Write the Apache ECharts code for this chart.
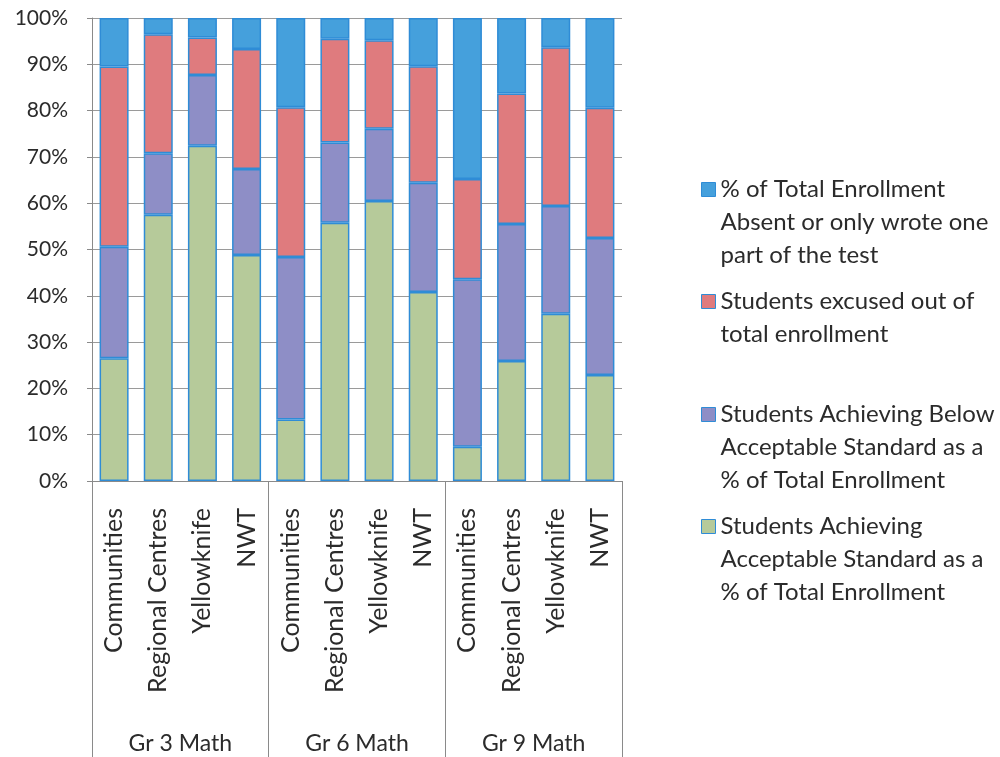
<!DOCTYPE html>
<html>
<head>
<meta charset="utf-8">
<script src="https://cdn.jsdelivr.net/npm/echarts@6/dist/echarts.min.js"></script>
<style>
    html, body { margin: 0; padding: 0; background: #fff; }
    #chart { width: 1000px; height: 757px; }
</style>
</head>
<body>
<div id="chart"></div>
<script>
    var categories = ['Communities', 'Regional Centres', 'Yellowknife', 'NWT',
                      'Communities', 'Regional Centres', 'Yellowknife', 'NWT',
                      'Communities', 'Regional Centres', 'Yellowknife', 'NWT'];
    var groups = ['Gr 3 Math', 'Gr 6 Math', 'Gr 9 Math'];
    var yTicks = [0, 10, 20, 30, 40, 50, 60, 70, 80, 90, 100];

    // segment heights, % of total enrollment
    var acceptable = [26.5, 57.5, 72.4, 48.8, 13.3, 55.8, 60.5, 40.8, 7.4, 25.9, 36.1, 22.9];
    var below      = [24.1, 13.3, 15.3, 18.6, 35.1, 17.3, 15.6, 23.6, 36.2, 29.6, 23.3, 29.6];
    var excused    = [38.9, 25.7, 8.1, 25.9, 32.3, 22.4, 19.1, 25.2, 21.6, 28.2, 34.3, 28.1];
    var absent     = [10.5, 3.5, 4.2, 6.7, 19.3, 4.5, 4.8, 10.4, 34.8, 16.3, 6.3, 19.4];

    var names = [
        'Students Achieving\nAcceptable Standard as a\n% of Total Enrollment',
        'Students Achieving Below\nAcceptable Standard as a\n% of Total Enrollment',
        'Students excused out of\ntotal enrollment',
        '% of Total Enrollment\nAbsent or only wrote one\npart of the test'
    ];
    var colors = ['#B6CA9A', '#8E8EC6', '#DF7B7E', '#45A0DC'];
    var font = 'Lato';
    var textColor = '#2b2b2b';

    var makeSeries = function (i, values) {
        return {
            name: names[i],
            type: 'bar',
            stack: 'total',
            barWidth: 29,
            data: values,
            itemStyle: {
                color: colors[i],
                borderColor: '#2F8CD6',
                borderWidth: 1.5
            }
        };
    };

    // legend text is centred on the icon, so pad with leading blank lines
    // to bring the first line level with the icon
    var makeLegend = function (i, top) {
        var lines = names[i].split('\n').length;
        var lead = new Array(lines).join('\n');
        return {
            left: 701,
            top: top,
            padding: 0,
            data: [names[i]],
            selectedMode: false,
            icon: 'rect',
            itemWidth: 14,
            itemHeight: 14,
            itemStyle: { borderColor: '#2F8CD6', borderWidth: 1 },
            formatter: function (name) { return lead + name; },
            textStyle: {
                fontFamily: font,
                fontSize: 24,
                color: textColor,
                lineHeight: 33
            }
        };
    };

    var chart = echarts.init(document.getElementById('chart'));
    chart.setOption({
        backgroundColor: '#fff',
        animation: false,
        legend: [
            makeLegend(3, 107),
            makeLegend(2, 252),
            makeLegend(1, 332),
            makeLegend(0, 444)
        ],
        grid: { left: 92, right: 378, top: 18, bottom: 276 },
        xAxis: [
            {
                type: 'category',
                data: categories,
                axisLine: { lineStyle: { color: '#8a8a8a', width: 1 } },
                axisTick: { show: false },
                axisLabel: {
                    rotate: 90,
                    interval: 0,
                    margin: 27,
                    fontFamily: font,
                    fontSize: 25,
                    color: textColor
                }
            },
            {
                type: 'category',
                data: groups,
                position: 'bottom',
                axisLine: { show: false },
                axisTick: { show: true, length: 276, lineStyle: { color: '#8a8a8a' } },
                axisLabel: {
                    margin: 251,
                    fontFamily: font,
                    fontSize: 23,
                    color: textColor
                }
            }
        ],
        yAxis: {
            type: 'value',
            min: 0,
            max: 100,
            interval: 10,
            axisLine: { show: true, lineStyle: { color: '#8a8a8a' } },
            axisTick: { show: true, length: 5, lineStyle: { color: '#8a8a8a' } },
            splitLine: { lineStyle: { color: '#9a9a9a', width: 1 } },
            axisLabel: {
                margin: 24,
                fontFamily: font,
                fontSize: 21,
                color: textColor,
                formatter: function (v) {
                    return yTicks.indexOf(v) >= 0 ? v + '%' : '';
                }
            }
        },
        series: [
            makeSeries(0, acceptable),
            makeSeries(1, below),
            makeSeries(2, excused),
            makeSeries(3, absent)
        ]
    });
</script>
</body>
</html>
